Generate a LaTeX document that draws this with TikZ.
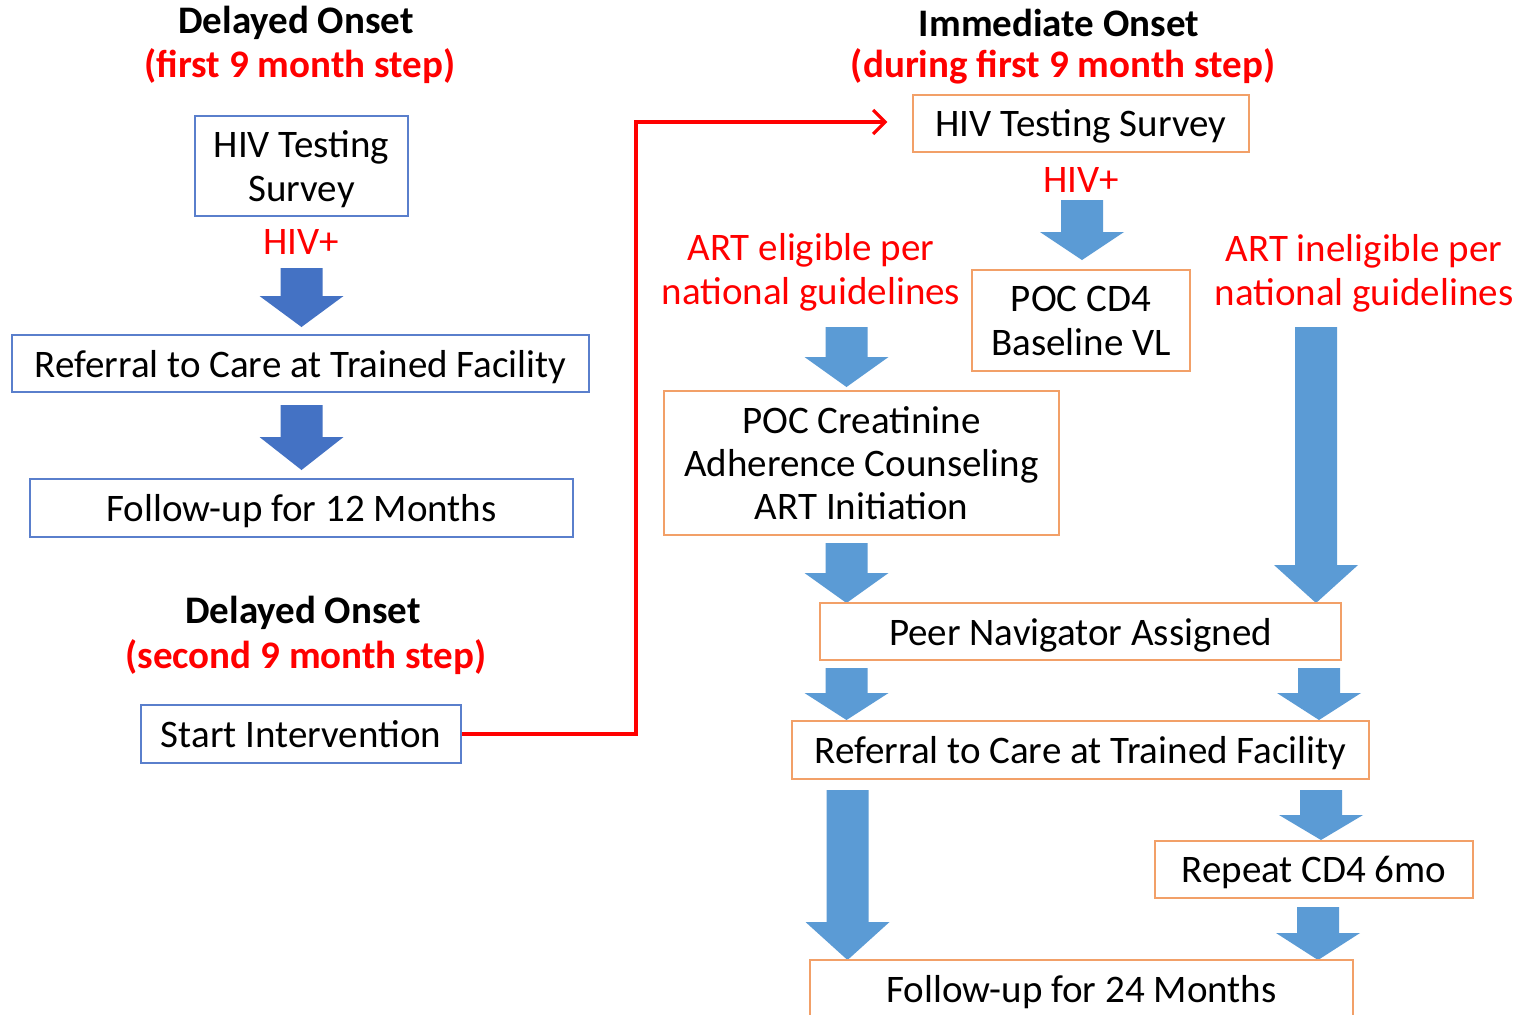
\documentclass[tikz,border=0pt]{standalone}
\usepackage{fontspec}
\setmainfont{Carlito}
\usetikzlibrary{arrows.meta}

\definecolor{dblue}{HTML}{4472C4}
\definecolor{lblue}{HTML}{5B9BD5}
\definecolor{bborder}{HTML}{5A7FCC}
\definecolor{oborder}{HTML}{F2A068}
\definecolor{hred}{HTML}{FF0000}

% Block arrow pointing down: colour, x centre, y top, y tip, head length
\newcommand\blockarrow[5]{%
  \fill[#1] (#2-21,#3) -- (#2+21,#3) -- (#2+21,#4-#5) -- (#2+42,#4-#5)
    -- (#2,#4) -- (#2-42,#4-#5) -- (#2-21,#4-#5) -- cycle;}

\tikzset{
  txt/.style={font=\fontsize{19.5}{22}\selectfont, align=center, inner sep=0pt},
  head/.style={txt, font=\fontsize{19.5}{22}\selectfont\bfseries},
  redhead/.style={head, text=hred},
  redtxt/.style={txt, text=hred},
  lbox/.style={txt, draw=bborder, line width=0.7pt, text depth=0pt},
  obox/.style={txt, draw=oborder, line width=0.7pt, text depth=0pt},
  conn/.style={draw=hred, line width=2pt, -{Straight Barb[length=6pt,width=12pt,line width=1.6pt]}},
}

\begin{document}
\begin{tikzpicture}[x=0.5pt,y=-0.5pt]
\useasboundingbox (0,0) rectangle (1530,1014);
\clip (0,0) rectangle (1530,1014);
\fill[white] (0,0) rectangle (1530,1014);

% ---------- delayed onset, first step ----------
\node[head] (d1title) at (296,23) {Delayed Onset};
\node[redhead] (d1sub) at (300,66) {(first 9 month step)};
\node[lbox, minimum width=106.5pt, minimum height=50pt] (lhiv) at (301.5,166) {HIV Testing\\Survey};
\node[redtxt] (lpos) at (301,242) {HIV+};
\blockarrow{dblue}{301.5}{268}{327}{31}
\node[lbox, minimum width=288.5pt, minimum height=28.5pt] (lref) at (300.5,363.5) {Referral to Care at Trained Facility};
\blockarrow{dblue}{301.5}{405}{470}{33}
\node[lbox, minimum width=271.5pt, minimum height=29pt] (lfu) at (301.5,508) {Follow-up for 12 Months};

% ---------- delayed onset, second step ----------
\node[head] (d2title) at (303,613) {Delayed Onset};
\node[redhead] (d2sub) at (306,657) {(second 9 month step)};
\node[lbox, minimum width=160pt, minimum height=29pt] (start) at (301,734) {Start Intervention};

% ---------- immediate onset ----------
\node[head] (ititle) at (1059,23) {Immediate Onset};
\node[redhead] (isub) at (1063,66) {(during first 9 month step)};
\node[obox, minimum width=168pt, minimum height=28.5pt] (rhiv) at (1081,123.5) {HIV Testing Survey};
\node[redtxt] (rpos) at (1081,180) {HIV+};
\blockarrow{lblue}{1082}{200}{260}{28}
\node[obox, minimum width=109pt, minimum height=50.5pt] (cd4) at (1081,320.5) {POC CD4\\Baseline VL};
\node[redtxt] (elig) at (811,272) {ART eligible per\\national guidelines};
\node[redtxt] (inelig) at (1364,273) {ART ineligible per\\national guidelines};
\blockarrow{lblue}{846.5}{327}{387}{30}
\node[obox, minimum width=197.5pt, minimum height=72pt] (creat) at (861.5,463) {POC Creatinine\\[-0.4pt]Adherence Counseling\\[-0.4pt]ART Initiation};
\blockarrow{lblue}{1316}{327}{603}{38}
\blockarrow{lblue}{846.5}{543}{603}{30}
\node[obox, minimum width=260.5pt, minimum height=28.5pt] (peer) at (1080.5,631.5) {Peer Navigator Assigned};
\blockarrow{lblue}{846.5}{668}{720}{27}
\blockarrow{lblue}{1319}{668}{720}{27}
\node[obox, minimum width=288.5pt, minimum height=29pt] (rref) at (1080.5,750) {Referral to Care at Trained Facility};
\blockarrow{lblue}{847.5}{790}{960}{38}
\blockarrow{lblue}{1321}{790}{840}{25}
\node[obox, minimum width=159pt, minimum height=28.5pt] (rep) at (1314,869.5) {Repeat CD4 6mo};
\blockarrow{lblue}{1318}{907}{960}{27}
\node[obox, minimum width=271.5pt, minimum height=29pt] (rfu) at (1081.5,989) {Follow-up for 24 Months};

% ---------- start of intervention leads to immediate onset ----------
\coordinate (turnx) at (636,0);
\draw[conn] (start.east) -- (start.east -| turnx) |- ([xshift=-12.5pt,yshift=0.75pt]rhiv.west);
\end{tikzpicture}
\end{document}
